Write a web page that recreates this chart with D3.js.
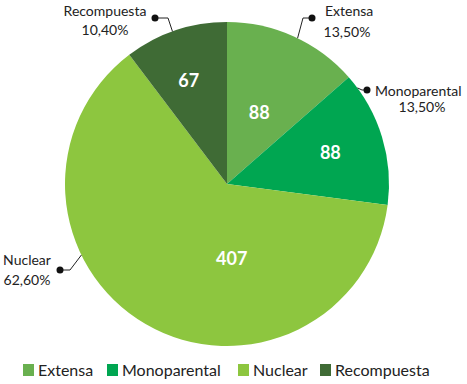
<!DOCTYPE html>
<html lang="es">
<head>
    <meta charset="UTF-8">
    <script src="https://d3js.org/d3.v7.min.js"></script>
    <title>Tipo de familia</title>
    <style>
        body { margin: 0; background: #fff; }
        text { font-family: Lato, "Open Sans", sans-serif; }
    </style>
</head>
<body>
<div id="chart"></div>
<script>
// Data
const categories = ["Extensa", "Monoparental", "Nuclear", "Recompuesta"];
const values = [88, 88, 407, 67];
const percentLabels = ["13,50%", "13,50%", "62,60%", "10,40%"];
const colors = ["#69b04f", "#00a651", "#8dc63f", "#3f6b35"];

const width = 467, height = 384;
const cx = 227, cy = 184, radius = 162;

const svg = d3.select("#chart").append("svg")
    .attr("width", width)
    .attr("height", height);

const g = svg.append("g").attr("transform", `translate(${cx},${cy})`);

const pie = d3.pie().sort(null).value(d => d.value);
const arc = d3.arc().innerRadius(0).outerRadius(radius);

const data = categories.map((c, i) => ({ name: c, value: values[i], pct: percentLabels[i], color: colors[i] }));
const arcs = pie(data);

// slices
g.selectAll("path.slice")
    .data(arcs)
    .enter().append("path")
    .attr("class", "slice")
    .attr("d", arc)
    .attr("fill", d => d.data.color);

// value labels inside the slices (radius + position along slice, tuned per slice)
const inner = [
    { r: 78, t: 0.5 },
    { r: 108, t: 0.5 },
    { r: 75, t: 0.35 },
    { r: 110, t: 0.45 }
];
g.selectAll("text.val")
    .data(arcs)
    .enter().append("text")
    .attr("class", "val")
    .attr("transform", (d, i) => {
        const a = d.startAngle + (d.endAngle - d.startAngle) * inner[i].t;
        return `translate(${inner[i].r * Math.sin(a)},${-inner[i].r * Math.cos(a) + 6})`;
    })
    .attr("text-anchor", "middle")
    .attr("fill", "#fff")
    .attr("font-weight", "bold")
    .attr("font-size", 18)
    .text(d => d.data.value);

// callouts: point on rim (fraction of slice), elbow, dot and text placement
const callouts = [
    { t: 0.53, elbow: [76, -166], dot: [85, -166], anchor: "start", tx: 98, ty: -168, px: 120, py: -147 },
    { t: 0.1, elbow: [135, -94], dot: [140, -94], anchor: "start", tx: 148, ty: -88, px: 195, py: -72 },
    { t: 0.65, elbow: [-157, 86], dot: [-167, 86], anchor: "middle", tx: -200, ty: 81, px: -200, py: 101 },
    { t: 0.47, elbow: [-59, -166], dot: [-72, -166], anchor: "middle", tx: -122, ty: -168, px: -122, py: -149 }
];

arcs.forEach((d, i) => {
    const c = callouts[i];
    const a = d.startAngle + (d.endAngle - d.startAngle) * c.t;
    const rim = [radius * Math.sin(a), -radius * Math.cos(a)];
    g.append("polyline")
        .attr("points", [rim, c.elbow, c.dot].map(p => p.join(",")).join(" "))
        .attr("fill", "none")
        .attr("stroke", "#222")
        .attr("stroke-width", 1);
    g.append("circle")
        .attr("cx", c.dot[0]).attr("cy", c.dot[1])
        .attr("r", 3.5)
        .attr("fill", "#111");
    g.append("text")
        .attr("x", c.tx).attr("y", c.ty)
        .attr("text-anchor", c.anchor)
        .attr("font-size", 14)
        .attr("fill", "#222")
        .text(d.data.name);
    g.append("text")
        .attr("x", c.px).attr("y", c.py)
        .attr("text-anchor", "middle")
        .attr("font-size", 14)
        .attr("fill", "#222")
        .text(d.data.pct);
});

// legend
const legendX = [23, 107, 238, 320];
const legend = svg.append("g").attr("transform", "translate(0,364)");
const item = legend.selectAll("g.item")
    .data(data)
    .enter().append("g")
    .attr("class", "item")
    .attr("transform", (d, i) => `translate(${legendX[i]},0)`);
item.append("rect")
    .attr("width", 11).attr("height", 12)
    .attr("fill", d => d.color);
item.append("text")
    .attr("x", 15).attr("y", 12)
    .attr("font-size", 16)
    .attr("fill", "#222")
    .text(d => d.name);
</script>
</body>
</html>
